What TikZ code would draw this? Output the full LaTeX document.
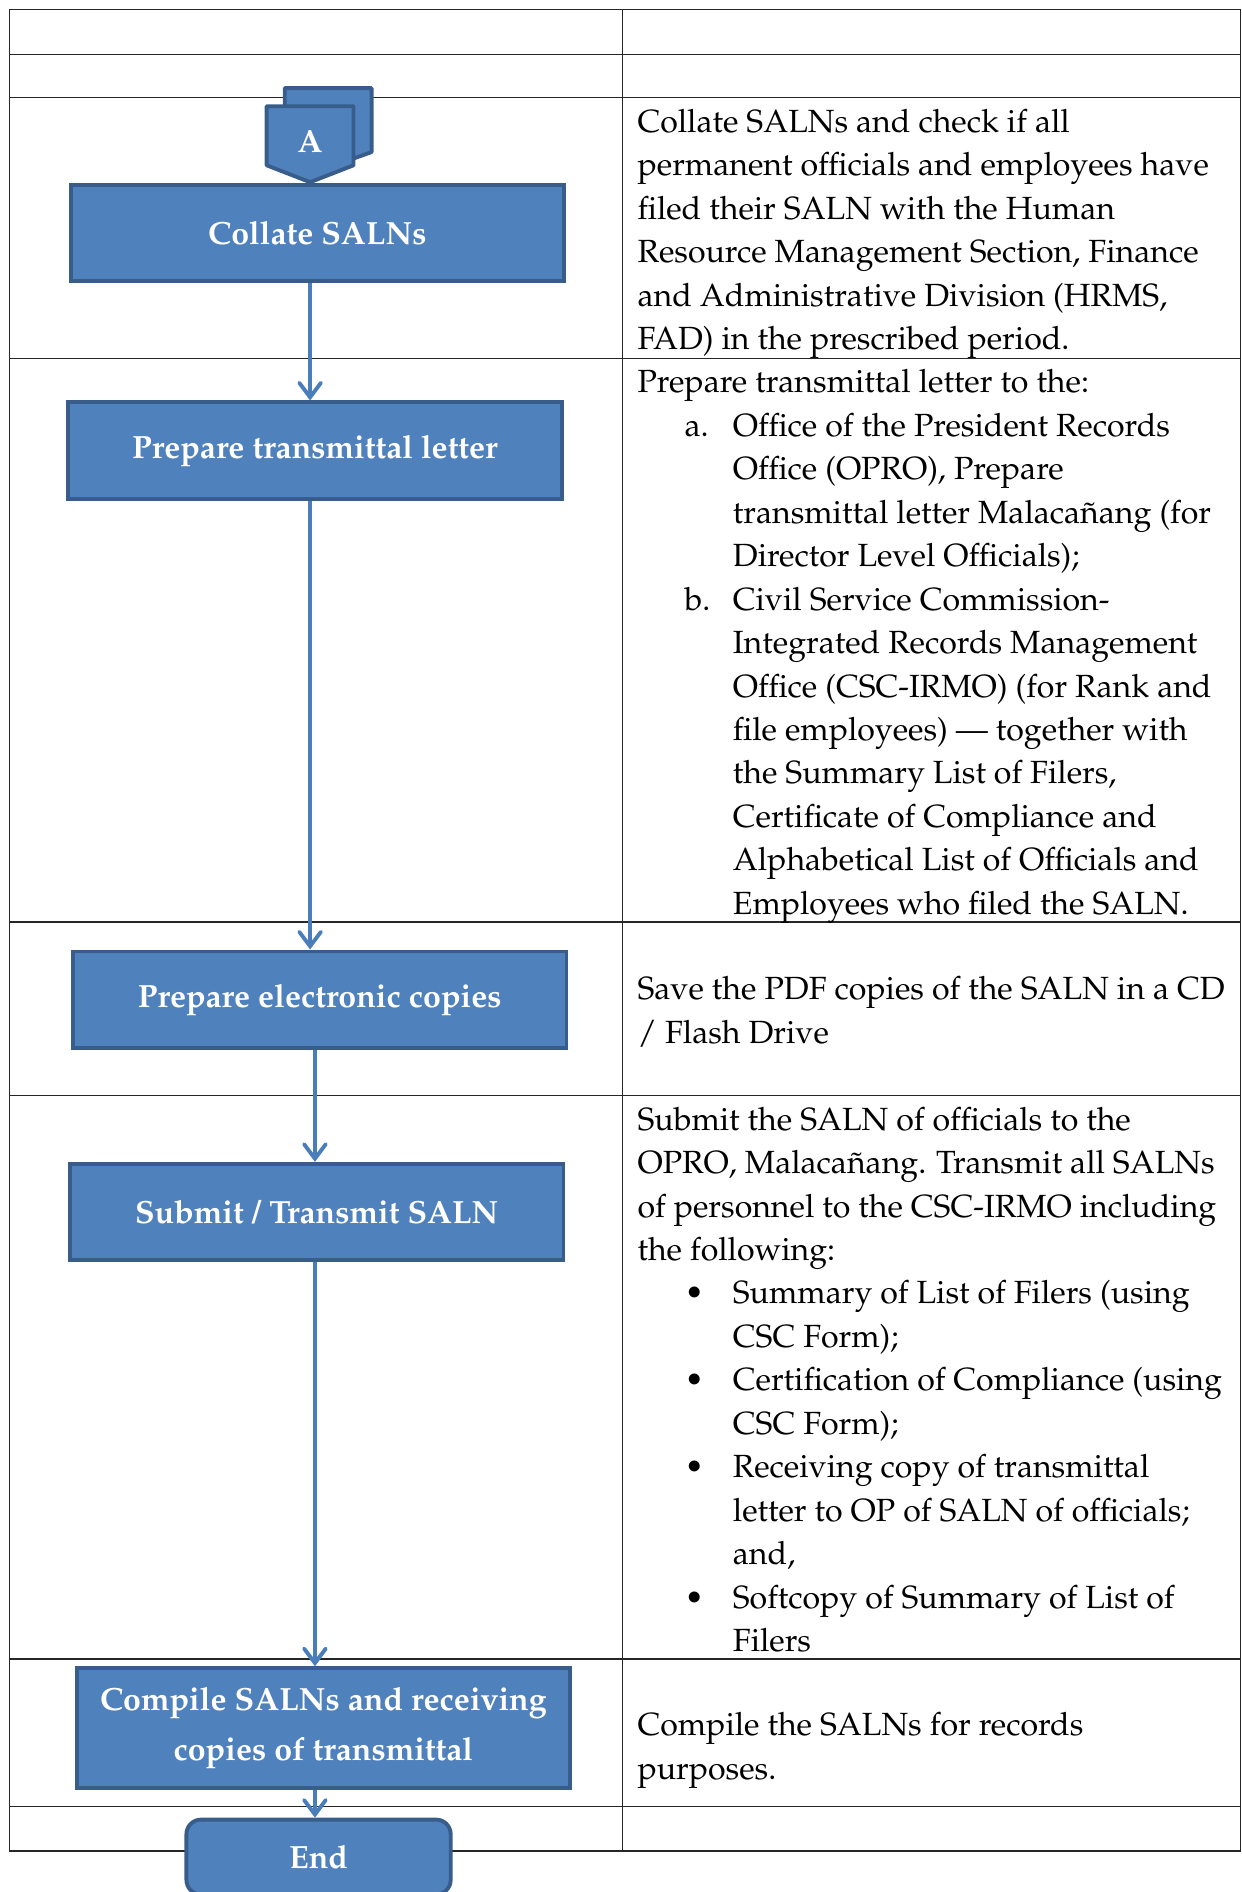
\documentclass[tikz,border=0pt]{standalone}
\usepackage[T1]{fontenc}
\usepackage{mathpazo}
\usepackage{tikz}
\usetikzlibrary{arrows.meta, positioning}
\definecolor{BoxBlue}{HTML}{4F81BD}
\definecolor{BoxEdge}{HTML}{385D8A}
\definecolor{FlowBlue}{HTML}{4A7EBB}
% list labels and hanging lines in the right column
\newcommand{\lbl}[1]{\hspace*{19.5pt}\makebox[20pt][l]{#1}}
\newcommand{\cnt}{\hspace*{39.5pt}}

\begin{document}
\begin{tikzpicture}[x=0.5pt, y=-0.5pt,
    stepbox/.style={draw=BoxEdge, fill=BoxBlue, line width=1.6pt, text=white, align=center,
        inner sep=0pt, font=\fontsize{13.3}{20.5}\selectfont\bfseries},
    flow/.style={draw=FlowBlue, line width=1.6pt, -{Straight Barb[length=6pt,width=9pt,line cap=round]}},
    celltext/.style={anchor=north west, inner sep=0pt, align=left, font=\fontsize{13.3}{18}\selectfont},
    rule/.style={draw=black!85, line width=0.6pt}]
    \useasboundingbox (0,0) rectangle (1029,1568);
    \clip (0,0) rectangle (1029,1568);

    % Table rules
    \draw[rule] (8,8) rectangle (1028,1534);
    \draw[rule] (516,8) -- (516,1534);
    \foreach \y in {45,81,297,764,908,1375,1497} {
        \draw[rule] (8,\y) -- (1028,\y);
    }

    % Off-page connector A (two stacked pages)
    \draw[BoxEdge, fill=BoxBlue, line width=1.6pt, line join=round]
        (236,73) -- (308,73) -- (308,126) -- (272,139) -- (236,126) -- cycle;
    \draw[BoxEdge, fill=BoxBlue, line width=1.6pt, line join=round]
        (221,88) -- (293,88) -- (293,137) -- (257,151) -- (221,137) -- cycle;
    \node[text=white, font=\fontsize{13.3}{16}\selectfont\bfseries] (connA) at (257,117) {A};

    % Process steps
    \node[stepbox, minimum width=204.5pt, minimum height=40pt] (collate) at (263,193) {Collate SALNs};
    \node[stepbox, minimum width=204.5pt, minimum height=40pt] (letter) at (261,373.5) {Prepare transmittal letter};
    \node[stepbox, minimum width=204.5pt, minimum height=40pt] (ecopy) at (265,828.5) {Prepare electronic copies};
    \node[stepbox, minimum width=204.5pt, minimum height=40pt] (submit) at (262.5,1004.5) {Submit / Transmit SALN};
    \node[stepbox, minimum width=204.5pt, minimum height=49.5pt] (compile) at (268,1432) {Compile SALNs and receiving\\copies of transmittal};
    \node[stepbox, rounded corners=6pt, minimum width=109.5pt, minimum height=31pt] (finish) at (264,1539) {End};

    % Connectors
    \coordinate (spine) at (261,0);
    \draw[flow] (collate.south -| connA) -- (letter.north -| connA);
    \draw[flow] (letter.south -| connA) -- (ecopy.north -| connA);
    \draw[flow] (ecopy.south -| spine) -- (submit.north -| spine);
    \draw[flow] (submit.south -| spine) -- (compile.north -| spine);
    \draw[flow] (compile.south -| spine) -- (finish.north -| spine);

    % Descriptions
    \node[celltext] (collateTxt) at (528,90) {Collate SALNs and check if all\\
        permanent officials and employees have\\
        filed their SALN with the Human\\
        Resource Management Section, Finance\\
        and Administrative Division (HRMS,\\
        FAD) in the prescribed period.};
    \node[celltext] (letterTxt) at (528,306) {Prepare transmittal letter to the:\\
        \lbl{a.}Office of the President Records\\
        \cnt Office (OPRO), Prepare\\
        \cnt transmittal letter Malaca\~nang (for\\
        \cnt Director Level Officials);\\
        \lbl{b.}Civil Service Commission-\\
        \cnt Integrated Records Management\\
        \cnt Office (CSC-IRMO) (for Rank and\\
        \cnt file employees) --- together with\\
        \cnt the Summary List of Filers,\\
        \cnt Certificate of Compliance and\\
        \cnt Alphabetical List of Officials and\\
        \cnt Employees who filed the SALN.};
    \node[celltext] (ecopyTxt) at (528,809) {Save the PDF copies of the SALN in a CD\\
        / Flash Drive};
    \node[celltext] (submitTxt) at (528,917) {Submit the SALN of officials to the\\
        OPRO, Malaca\~nang. Transmit all SALNs\\
        of personnel to the CSC-IRMO including\\
        the following:\\
        \lbl{\textbullet}Summary of List of Filers (using\\
        \cnt CSC Form);\\
        \lbl{\textbullet}Certification of Compliance (using\\
        \cnt CSC Form);\\
        \lbl{\textbullet}Receiving copy of transmittal\\
        \cnt letter to OP of SALN of officials;\\
        \cnt and,\\
        \lbl{\textbullet}Softcopy of Summary of List of\\
        \cnt Filers};
    \node[celltext] (compileTxt) at (528,1419) {Compile the SALNs for records\\
        purposes.};

\end{tikzpicture}
\end{document}
